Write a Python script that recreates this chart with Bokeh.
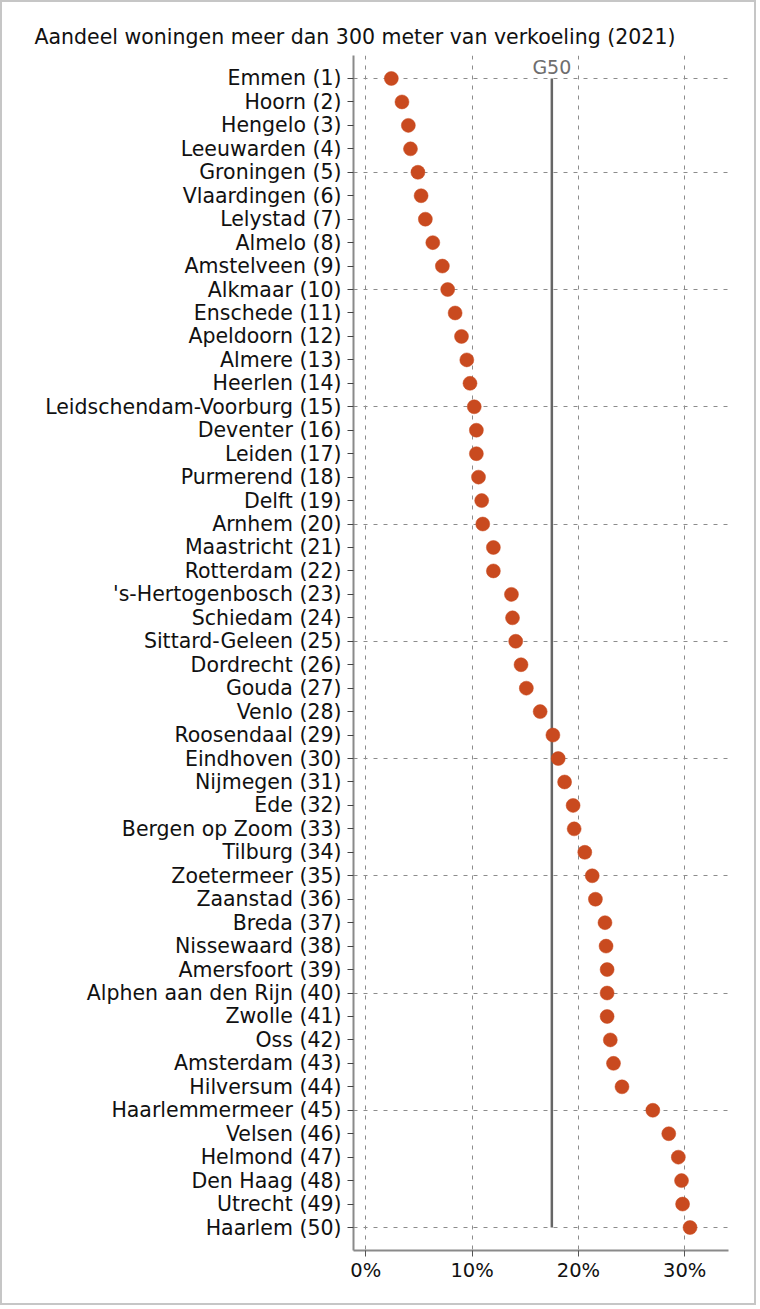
from bokeh.plotting import figure
from bokeh.models import Range1d, FixedTicker, ColumnDataSource
from bokeh.core.properties import value
from bokeh.embed import file_html
from bokeh.resources import INLINE

# ---- data ----
gemeenten = ["Emmen", "Hoorn", "Hengelo", "Leeuwarden", "Groningen", "Vlaardingen",
             "Lelystad", "Almelo", "Amstelveen", "Alkmaar", "Enschede", "Apeldoorn",
             "Almere", "Heerlen", "Leidschendam-Voorburg", "Deventer", "Leiden",
             "Purmerend", "Delft", "Arnhem", "Maastricht", "Rotterdam",
             "'s-Hertogenbosch", "Schiedam", "Sittard-Geleen", "Dordrecht", "Gouda",
             "Venlo", "Roosendaal", "Eindhoven", "Nijmegen", "Ede", "Bergen op Zoom",
             "Tilburg", "Zoetermeer", "Zaanstad", "Breda", "Nissewaard", "Amersfoort",
             "Alphen aan den Rijn", "Zwolle", "Oss", "Amsterdam", "Hilversum",
             "Haarlemmermeer", "Velsen", "Helmond", "Den Haag", "Utrecht", "Haarlem"]
aandeel = [2.4, 3.4, 4.0, 4.2, 4.9, 5.2, 5.6, 6.3, 7.2, 7.7, 8.4, 9.0, 9.5, 9.8,
           10.2, 10.4, 10.4, 10.6, 10.9, 11.0, 12.0, 12.0, 13.7, 13.8, 14.1, 14.6,
           15.1, 16.4, 17.6, 18.1, 18.7, 19.5, 19.6, 20.6, 21.3, 21.6, 22.5, 22.6,
           22.7, 22.7, 22.7, 23.0, 23.3, 24.1, 27.0, 28.5, 29.4, 29.7, 29.8, 30.5]
g50 = 17.5
x_ticks = [0, 10, 20, 30]
x_tick_labels = ["0%", "10%", "20%", "30%"]
grid_ranks = [1, 5, 10, 15, 20, 25, 30, 35, 40, 45, 50]
title_text = "Aandeel woningen meer dan 300 meter van verkoeling (2021)"

ranks = list(range(1, len(gemeenten) + 1))
labels = {r: f"{n} ({r})" for r, n in zip(ranks, gemeenten)}

FONT = "DejaVu Sans"
DOT = "#c94a1f"

p = figure(width=756, height=1305, output_backend="svg", toolbar_location=None,
           x_range=Range1d(-1.16, 34.12), y_range=Range1d(50.98, 0.02),
           min_border_left=351, min_border_right=30, min_border_top=53,
           min_border_bottom=57, title=title_text)
p.styles = {"border": "2px solid #c6c6c6"}
p.outline_line_color = None
p.background_fill_color = "white"
p.border_fill_color = "white"

p.title.text_font = FONT
p.title.text_font_size = "20.5px"
p.title.text_font_style = "normal"
p.title.text_color = "#111111"
p.title.align = "left"
p.title.offset = -319
p.title.standoff = 14

# axes
p.yaxis.ticker = FixedTicker(ticks=ranks)
p.yaxis.major_label_overrides = labels
p.yaxis.major_label_text_font = FONT
p.yaxis.major_label_text_font_size = "20.5px"
p.yaxis.major_label_text_color = "#111111"
p.yaxis.major_tick_out = 6
p.yaxis.major_tick_in = 0
p.yaxis.minor_tick_line_color = None
p.yaxis.major_tick_line_color = "#444444"
p.yaxis.axis_line_color = "#8a8a8a"
p.yaxis.axis_line_width = 2
p.yaxis.major_label_standoff = 6

p.xaxis.ticker = FixedTicker(ticks=x_ticks)
p.xaxis.major_label_overrides = dict(zip(x_ticks, x_tick_labels))
p.xaxis.major_label_text_font = FONT
p.xaxis.major_label_text_font_size = "19.5px"
p.xaxis.major_label_text_color = "#111111"
p.xaxis.major_tick_out = 6
p.xaxis.major_tick_in = 0
p.xaxis.minor_tick_line_color = None
p.xaxis.major_tick_line_color = "#555555"
p.xaxis.axis_line_color = "#8a8a8a"
p.xaxis.axis_line_width = 2
p.xaxis.major_label_standoff = 2

# grids
p.xgrid.ticker = FixedTicker(ticks=x_ticks)
p.xgrid.grid_line_color = "#8c8c8c"
p.xgrid.grid_line_dash = "4 6"
p.xgrid.grid_line_width = 1
p.ygrid.ticker = FixedTicker(ticks=grid_ranks)
p.ygrid.grid_line_color = "#8c8c8c"
p.ygrid.grid_line_dash = "4 6"
p.ygrid.grid_line_width = 1

# G50 reference line
p.segment(x0=[g50], y0=[ranks[0]], x1=[g50], y1=[ranks[-1]],
          line_color="#666666", line_width=2.5)
p.text(x=[g50], y=[ranks[0]], text=["G50"], text_align="center",
       text_baseline="bottom", y_offset=0, text_font=value(FONT),
       text_font_size="19px", text_color="#6e6e6e")

# dots
src = ColumnDataSource(dict(x=aandeel, y=ranks))
p.scatter("x", "y", source=src, size=14, fill_color=DOT, line_color=DOT,
          line_width=0.5)

open("out.html", "w").write(file_html(p, INLINE))
